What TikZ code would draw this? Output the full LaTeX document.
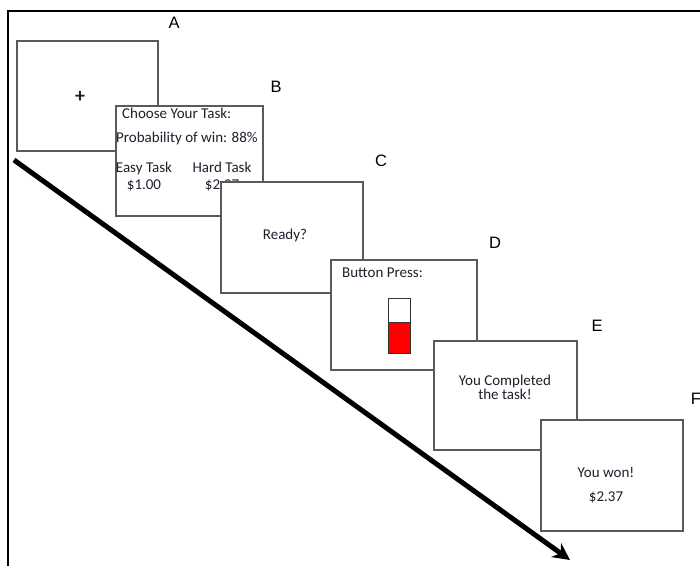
\documentclass[tikz,border=0pt]{standalone}
\usepackage{fontspec}
\setmainfont{Carlito}
\newfontfamily\labfont{Liberation Sans}
\usetikzlibrary{arrows.meta}
\definecolor{boxline}{HTML}{5A5A5A}
\definecolor{txt}{HTML}{20202C}
\tikzset{
  screen/.style={draw=boxline, line width=1.6pt, fill=white, minimum width=142pt, minimum height=110pt, inner sep=0pt, anchor=north west},
  lab/.style={font=\labfont\fontsize{16.5}{16}\selectfont, text=black, inner sep=0pt},
  stxt/.style={font=\fontsize{15}{17}\selectfont, text=txt, inner sep=0pt},
}
\begin{document}
\begin{tikzpicture}[x=1pt,y=-1pt]
\useasboundingbox (0,0) rectangle (700,566);
% outer frame (top and left)
\draw[line width=2.6pt] (700,11) -- (8,11) -- (8,566);
% A
\node[screen, minimum width=141pt] (A) at (16,40) {};
\node[stxt, font=\fontsize{20}{20}\selectfont\bfseries] (plus) at (80,97) {+};
\node[lab] (la) at (174,23) {A};
% B
\node[screen, minimum width=147pt] (B) at (115,105) {};
\node[stxt, anchor=west] (b1) at (122,113) {Choose Your Task:};
\node[stxt, anchor=west] (b2) at (116,138) {Probability of win: 88\%};
\node[stxt, align=center] (b3) at (144,177) {Easy Task\\\$1.00};
\node[stxt, align=center] (b4) at (222,177) {Hard Task\\\$2.37};
\node[lab] (lb) at (276,87) {B};
% C
\node[screen, minimum height=111pt] (C) at (220,181) {};
\node[stxt] (c1) at (285,235) {Ready?};
\node[lab] (lc) at (381,161) {C};
% D
\node[screen, minimum width=146pt] (D) at (330,259) {};
\node[stxt, anchor=west] (d1) at (342,273) {Button Press:};
\node[draw=black!80, line width=1pt, fill=red, minimum width=22pt, minimum height=31pt, inner sep=0pt, anchor=north west] (fill) at (388,322) {};
\node[draw=black!80, line width=1pt, minimum width=22pt, minimum height=55pt, inner sep=0pt, anchor=north west] (bar) at (388,298) {};
\node[lab] (ld) at (495,243) {D};
% E
\node[screen, minimum width=143pt, minimum height=109pt] (E) at (433,340) {};
\node[stxt, align=center, font=\fontsize{15}{12}\selectfont] (e1) at (505,387) {You Completed\\the task!};
\node[lab] (le) at (597,326) {E};
% F
\node[screen, minimum height=111pt] (F) at (540,419) {};
\node[stxt] (f1) at (606,472) {You won!};
\node[stxt] (f2) at (606,497) {\$2.37};
\node[lab] (lf) at (696,399) {F};
% arrow
\coordinate (s) at (14,160);
\coordinate (t) at (570,560);
\draw[line width=5pt, -{Stealth[length=17pt,width=17pt]}] (s) -- (t);
\end{tikzpicture}
\end{document}
